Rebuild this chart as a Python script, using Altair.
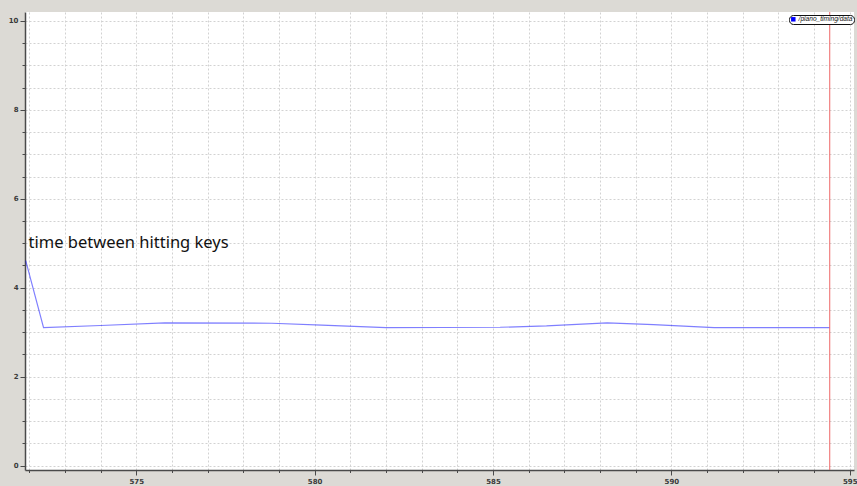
import altair as alt
import pandas as pd

# Interval between successive key presses, sampled over time
t_sec = [571.9, 572.4, 574.0, 575.8, 578.8, 580.2, 582.0, 585.2, 586.5, 588.2, 589.5, 591.2, 594.44]
gap = [4.61, 3.10, 3.15, 3.21, 3.20, 3.16, 3.10, 3.11, 3.14, 3.21, 3.17, 3.10, 3.10]
topic = "/piano_timing/data"

# Current-time cursor
cursor_t = [594.44]

# Annotation placed inside the plot
note_text = ["time between hitting keys"]
note_t = [571.98]
note_y = [4.89]

# Tick positions (minor every step, labels only on majors)
x_ticks = list(range(572, 596))
y_ticks = [i / 2 for i in range(21)]

series = pd.DataFrame({"t": t_sec, "gap": gap, "topic": [topic] * len(t_sec)})
cursor = pd.DataFrame({"t": cursor_t})
note = pd.DataFrame({"t": note_t, "gap": note_y, "label": note_text})

x_scale = alt.Scale(domain=[571.88, 595.12], nice=False, zero=False)
y_scale = alt.Scale(domain=[-0.1, 10.2], nice=False, zero=False)

axis_common = dict(
    title=None,
    grid=True,
    gridColor="#d2d2d2",
    gridDash=[2, 2],
    gridWidth=1,
    domainColor="#4a4a4a",
    domainWidth=1.5,
    tickColor="#4a4a4a",
    tickWidth=1,
    tickCount=60,
    labelFont="DejaVu Sans",
    labelFontSize=7,
    labelFontWeight="bold",
    labelColor="#3a3a3a",
    labelOverlap=False,
    labelFlush=False,
)

x_axis = alt.Axis(
    values=x_ticks,
    labelExpr="datum.value % 5 === 0 ? format(datum.value, 'd') : ''",
    tickSize={"condition": {"test": "datum.value % 5 === 0", "value": 5}, "value": 2.5},
    labelPadding=2,
    **axis_common,
)
y_axis = alt.Axis(
    values=y_ticks,
    labelExpr="datum.value % 2 === 0 ? format(datum.value, 'd') : ''",
    tickSize={"condition": {"test": "datum.value % 2 === 0", "value": 5}, "value": 3},
    labelPadding=2,
    **axis_common,
)

line = alt.Chart(series).mark_line(strokeWidth=1.2, opacity=0.5, clip=True).encode(
    x=alt.X("t:Q", scale=x_scale, axis=x_axis),
    y=alt.Y("gap:Q", scale=y_scale, axis=y_axis),
    color=alt.Color(
        "topic:N",
        scale=alt.Scale(range=["#0000ff"]),
        legend=alt.Legend(
            title=None,
            orient="none",
            legendX=764,
            legendY=3,
            symbolType="square",
            symbolSize=20,
            symbolFillColor="#0000ff",
            symbolStrokeColor="#0000ff",
            symbolStrokeWidth=0,
            symbolOpacity=1,
            labelFont="Liberation Sans",
            labelFontSize=6.6,
            labelFontStyle="italic",
            labelColor="#111111",
            labelOffset=2,
            padding=1,
            cornerRadius=4,
            strokeColor="#111111",
            fillColor="white",
        ),
    ),
)

rule = alt.Chart(cursor).mark_rule(color="#ee6666", strokeWidth=1).encode(
    x=alt.X("t:Q", scale=x_scale)
)

label = alt.Chart(note).mark_text(
    font="Noto Sans", fontSize=16.5, align="left", baseline="alphabetic", color="#111111"
).encode(
    x=alt.X("t:Q", scale=x_scale),
    y=alt.Y("gap:Q", scale=y_scale),
    text="label:N",
)

chart = (
    alt.layer(line, rule, label)
    .properties(
        width=829,
        height=458,
        padding={"left": 25, "top": 12, "right": 3, "bottom": 16},
        autosize=alt.AutoSizeParams(type="none"),
    )
    .configure(background="#dcdad5")
    .configure_view(fill="white", strokeWidth=0)
)

chart.save("out.html", embed_options={"renderer": "svg", "actions": False})
